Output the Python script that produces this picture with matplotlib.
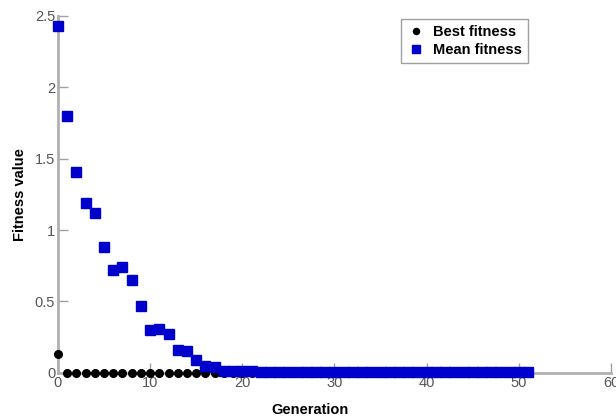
import numpy as np
import matplotlib
matplotlib.use("Agg")
import matplotlib.pyplot as plt

# valeurs
generation = np.arange(0, 52)
mean_head = [2.43, 1.80, 1.41, 1.19, 1.12, 0.88, 0.72, 0.74, 0.65, 0.47,
             0.30, 0.31, 0.27, 0.16, 0.15, 0.09, 0.05, 0.04, 0.015, 0.01,
             0.015, 0.01]
mean_tail = [0.005] * 30
mean_fitness = mean_head + mean_tail
best_fitness = [0.13] + [0.0] * 51

x_ticks = [0, 10, 20, 30, 40, 50, 60]
y_ticks = [0, 0.5, 1, 1.5, 2, 2.5]
y_tick_labels = ["0", "0.5", "1", "1.5", "2", "2.5"]

plt.rcParams['font.family'] = ['Liberation Sans', 'DejaVu Sans']

fig = plt.figure(figsize=(6.16, 4.18), dpi=100)
ax = fig.add_axes([0.094, 0.108, 0.898, 0.854])

ax.plot(generation, best_fitness, 'o', color='black', markersize=5.5,
        label='Best fitness', clip_on=False, zorder=3)
ax.plot(generation, mean_fitness, 's', color='#0000cc', markersize=7,
        label='Mean fitness', clip_on=False, zorder=4)

ax.set_xlim(0, 60)
ax.set_ylim(0, 2.5)
ax.set_xticks(x_ticks)
ax.set_yticks(y_ticks)
ax.set_yticklabels(y_tick_labels)

for side in ['top', 'right']:
    ax.spines[side].set_visible(False)
for side in ['left', 'bottom']:
    ax.spines[side].set_color('#b0b0b0')
    ax.spines[side].set_linewidth(2)

ax.tick_params(direction='in', length=7, width=1, color='#a0a0a0',
               labelcolor='#555555', labelsize=10.5, pad=2)

ax.set_xlabel('Generation', fontsize=10.5, fontweight='bold', labelpad=4)
ax.xaxis.set_label_coords(0.456, -0.085)
ax.set_ylabel('Fitness value', fontsize=10.5, fontweight='bold')
ax.yaxis.set_label_coords(-0.056, 0.5)

leg = ax.legend(loc='upper left', bbox_to_anchor=(0.62, 0.99),
                prop={'weight': 'bold', 'size': 10.5}, frameon=True,
                fancybox=False, borderpad=0.4, handletextpad=0.5,
                labelspacing=0.25, handlelength=1.3, borderaxespad=0,
                markerscale=0.8)
leg.get_frame().set_edgecolor('#888888')
leg.get_frame().set_linewidth(1)

fig.savefig('out.png', dpi=100)
